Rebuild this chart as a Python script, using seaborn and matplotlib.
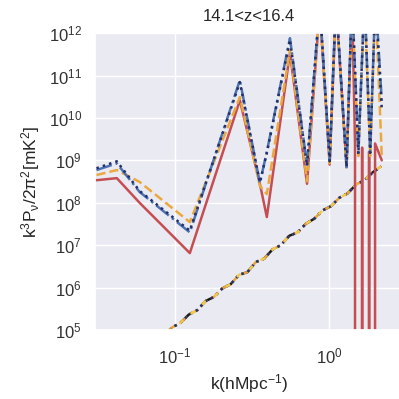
import numpy as np
import pandas as pd
import matplotlib
matplotlib.use("Agg")
import matplotlib.pyplot as plt
import seaborn as sns

# Wavenumber bins [h/Mpc] for the signal power spectra
k_sig = [0.031, 0.042, 0.059, 0.125, 0.264, 0.356, 0.395, 0.558, 0.72, 0.87,
         1.01, 1.11, 1.30, 1.41, 1.55, 1.70, 1.85, 2.0, 2.2]
# Red-channel bins (finer at high k where the estimate turns negative)
k_red = [0.031, 0.042, 0.059, 0.125, 0.264, 0.356, 0.395, 0.558, 0.72, 0.87,
         1.01, 1.11, 1.30, 1.41, 1.475, 1.56, 1.64, 1.73, 1.82, 1.91, 1.99, 2.2]

# Dimensionless power k^3 P / 2pi^2 [mK^2]
p_red = [3.4e8, 3.8e8, 1.0e8, 6.5e6, 2.6e10, 2.8e8, 4.6e7, 3.4e11, 2.8e8, 4e12,
         7.9e8, 5e12, 7.1e8, 6.3e12, 2.5e9, -2e8, 2.0e9, -2e8, 1.6e9, -2e8, 2.5e9, 1.0e9]
p_orange = [4.5e8, 5.9e8, 3.1e8, 3.5e7, 3.1e10, 2.5e8, 1.6e8, 4.0e11, 3.2e8, 4e12,
            8.5e8, 5e12, 6.3e8, 6.3e12, 1.26e9, 6.3e12, 1.26e9, 6.3e12, 1.26e9]
p_blue = [5.9e8, 8.5e8, 1.8e8, 2.0e7, 7.8e10, 2.9e8, 1.6e9, 7.6e11, 7.8e8, 5e12,
          1.0e9, 6.3e12, 6.9e8, 8e12, 1.5e9, 8e12, 1.6e9, 8e12, 2.5e10]
p_navy = [6.5e8, 9.5e8, 1.9e8, 2.2e7, 7.0e10, 3.0e8, 1.5e9, 7.0e11, 7.5e8, 5e12,
          9.5e8, 6e12, 7e8, 7.5e12, 1.4e9, 7.5e12, 1.5e9, 7.5e12, 1.6e10]

# Thermal-noise power spectrum
k_noise = [0.031, 0.035, 0.040, 0.045, 0.051, 0.058, 0.066, 0.075, 0.085, 0.096,
           0.109, 0.123, 0.140, 0.158, 0.179, 0.203, 0.230, 0.261, 0.295, 0.335,
           0.379, 0.430, 0.487, 0.552, 0.625, 0.708, 0.802, 0.909, 1.03, 1.17,
           1.32, 1.50, 1.70, 1.92, 2.18]
p_noise = [4.6e3, 6.8e3, 8.9e3, 1.35e4, 1.78e4, 2.75e4, 3.7e4, 5.75e4, 7.4e4, 1.15e5,
           1.48e5, 2.3e5, 2.95e5, 4.8e5, 6.0e5, 9.5e5, 1.2e6, 2.0e6, 2.3e6, 4.0e6,
           4.8e6, 7.9e6, 1.0e7, 1.66e7, 2.0e7, 3.2e7, 4.2e7, 6.6e7, 8.3e7, 1.32e8,
           1.66e8, 2.7e8, 3.4e8, 5.2e8, 7.2e8]

sns.set_theme(style="darkgrid")
plt.rcParams["font.family"] = ["Liberation Sans", "DejaVu Sans"]
plt.rcParams["mathtext.default"] = "regular"

fig = plt.figure(figsize=(3.99, 3.99), dpi=100)
ax = fig.add_axes([0.238, 0.173, 0.772, 0.744])

lw = 1.8
# noise curves, one per channel style
sns.lineplot(x=k_noise, y=p_noise, ax=ax, color="#1a1a1a", linestyle="-.", lw=lw, estimator=None, sort=False)
sns.lineplot(x=k_noise, y=p_noise, ax=ax, color="#e8a33d", linestyle="--", lw=lw, estimator=None, sort=False)
sns.lineplot(x=k_noise, y=p_noise, ax=ax, color="#22306b", linestyle=":", lw=lw, estimator=None, sort=False)
sns.lineplot(x=k_noise, y=p_noise, ax=ax, color="#f2c94c", linestyle=(0, (2, 4)), lw=lw, estimator=None, sort=False)

# signal curves
sns.lineplot(x=k_red, y=p_red, ax=ax, color="#c44e52", linestyle="-", lw=lw, estimator=None, sort=False)
sns.lineplot(x=k_sig, y=p_orange, ax=ax, color="#eaa83f", linestyle="--", lw=lw, estimator=None, sort=False)
sns.lineplot(x=k_sig, y=p_blue, ax=ax, color="#4c72b0", linestyle="-.", lw=lw, estimator=None, sort=False)
sns.lineplot(x=k_sig, y=p_navy, ax=ax, color="#22306b", linestyle=":", lw=lw, estimator=None, sort=False)

ax.set_xscale("log")
ax.set_yscale("log")
ax.set_xlim(0.0303, 3.02)
ax.set_ylim(1e5, 1e12)
ax.set_yticks([1e5, 1e6, 1e7, 1e8, 1e9, 1e10, 1e11, 1e12])
ax.tick_params(axis="both", labelsize=12, colors=".2")
ax.tick_params(axis="x", pad=6)
ax.set_title("14.1<z<16.4", fontsize=12, color=".15", pad=9)
ax.set_xlabel("k(hMpc$^{-1}$)", fontsize=12.5, color=".15")
ax.set_ylabel("k$^3$P$_\\nu$/2π$^2$[mK$^2$]", fontsize=12.5, color=".15", labelpad=5)

fig.savefig("out.png", dpi=100)
